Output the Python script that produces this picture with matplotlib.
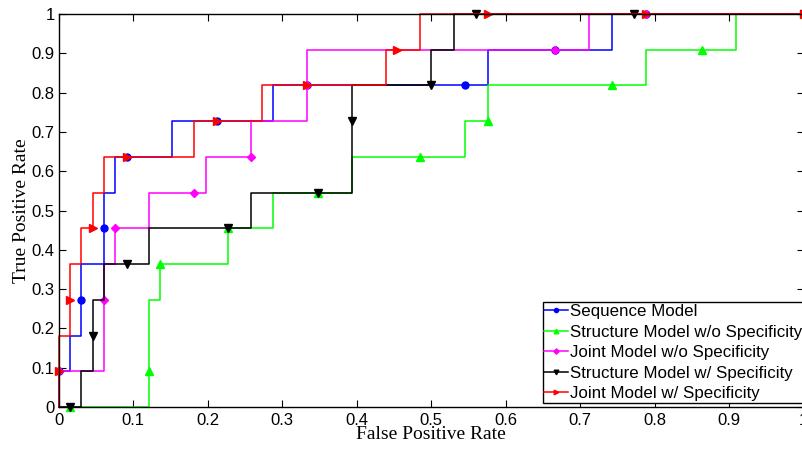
import numpy as np
import matplotlib
matplotlib.use('Agg')
import matplotlib.pyplot as plt

# ROC curves: counts of false positives (out of 66) and true positives (out of 11)
n_neg = 66
n_pos = 11

labels = ['Sequence Model',
          'Structure Model w/o Specificity',
          'Joint Model w/o Specificity',
          'Structure Model w/ Specificity',
          'Joint Model w/ Specificity']

seq_fp = [0, 0, 1, 1, 2, 2, 2, 4, 4, 4, 5, 5, 6, 10, 10, 14, 19, 19, 22, 36, 38, 38, 44, 49, 49, 52, 66]
seq_tp = [0, 1, 1, 2, 2, 3, 4, 4, 5, 6, 6, 7, 7, 7, 8, 8, 8, 9, 9, 9, 9, 10, 10, 10, 11, 11, 11]
seq_mk = [1, 5, 8, 12, 15, 18, 19, 22, 25, 26]

str_fp = [0, 1, 8, 8, 8, 9, 9, 15, 15, 19, 19, 23, 26, 26, 32, 36, 36, 38, 38, 49, 52, 52, 57, 60, 60, 66]
str_tp = [0, 0, 0, 1, 3, 3, 4, 4, 5, 5, 6, 6, 6, 7, 7, 7, 8, 8, 9, 9, 9, 10, 10, 10, 11, 11]
str_mk = [1, 3, 6, 8, 11, 14, 17, 19, 22, 25]

joint_fp = [0, 0, 4, 4, 4, 5, 5, 8, 8, 12, 13, 13, 17, 17, 22, 22, 22, 44, 47, 47, 52, 66]
joint_tp = [0, 1, 1, 3, 4, 4, 5, 5, 6, 6, 6, 7, 7, 8, 8, 9, 10, 10, 10, 11, 11, 11]
joint_mk = [1, 3, 6, 9, 12, 15, 17, 20, 21]

strs_fp = [0, 1, 2, 2, 3, 3, 3, 4, 4, 6, 8, 8, 15, 17, 17, 23, 26, 26, 26, 33, 33, 35, 35, 37, 51, 66]
strs_tp = [0, 0, 0, 1, 1, 2, 3, 3, 4, 4, 4, 5, 5, 5, 6, 6, 6, 8, 9, 9, 10, 10, 11, 11, 11, 11]
strs_mk = [1, 5, 9, 12, 15, 17, 19, 23, 24, 25]

joints_fp = [0, 0, 0, 1, 1, 1, 2, 2, 3, 3, 4, 4, 6, 12, 12, 14, 18, 18, 22, 29, 29, 30, 32, 32, 38, 52, 66]
joints_tp = [0, 1, 2, 2, 3, 4, 4, 5, 5, 6, 6, 7, 7, 7, 8, 8, 8, 9, 9, 9, 10, 10, 10, 11, 11, 11, 11]
joints_mk = [1, 4, 8, 12, 15, 18, 21, 24, 25, 26]

tick_labels = ['0', '0.1', '0.2', '0.3', '0.4', '0.5', '0.6', '0.7', '0.8', '0.9', '1']

curves = [(seq_fp, seq_tp, seq_mk, '#0000ff', 'o', 5),
          (str_fp, str_tp, str_mk, '#00ff00', '^', 5.5),
          (joint_fp, joint_tp, joint_mk, '#ff00ff', 'D', 4.5),
          (strs_fp, strs_tp, strs_mk, '#000000', 'v', 5.5),
          (joints_fp, joints_tp, joints_mk, '#ff0000', '>', 5.5)]

fig = plt.figure(figsize=(8.02, 4.49), dpi=100)
ax = fig.add_axes([0.0733, 0.0935, 0.9289, 0.8753])

for (fp, tp, mk, col, m, ms), lab in zip(curves, labels):
    x = np.array(fp) / n_neg
    y = np.array(tp) / n_pos
    ax.plot(x, y, color=col, lw=1.1, marker=m, markevery=mk, ms=ms,
            mfc=col, mec=col, label=lab, clip_on=False)

ax.set_xlim(0, 1)
ax.set_ylim(0, 1)
ax.set_xticks(np.arange(0, 1.01, 0.1))
ax.set_yticks(np.arange(0, 1.01, 0.1))
ax.set_xticklabels(tick_labels)
ax.set_yticklabels(tick_labels)
ax.tick_params(direction='in', length=5, width=0.8, top=True, right=True,
               labelsize=12)
ax.tick_params(axis='x', pad=4)
ax.tick_params(axis='y', pad=3)
for t in ax.get_xticklabels() + ax.get_yticklabels():
    t.set_fontfamily('Liberation Sans')
for sp in ax.spines.values():
    sp.set_linewidth(1.0)

ax.set_xlabel('False Positive Rate', fontfamily='Liberation Serif', fontsize=14, labelpad=-1)
ax.set_ylabel('True Positive Rate', fontfamily='Liberation Serif', fontsize=14, labelpad=1)

leg = ax.legend(loc='lower right', bbox_to_anchor=(1.0, 0.01), borderaxespad=0,
                prop={'family': 'Liberation Sans', 'size': 12.2},
                handlelength=1.4, handletextpad=0.1, labelspacing=0.33,
                borderpad=0.1, markerscale=0.6, fancybox=False, framealpha=1)
leg.get_frame().set_edgecolor('k')
leg.get_frame().set_linewidth(1.0)

fig.savefig('out.png', dpi=100)
